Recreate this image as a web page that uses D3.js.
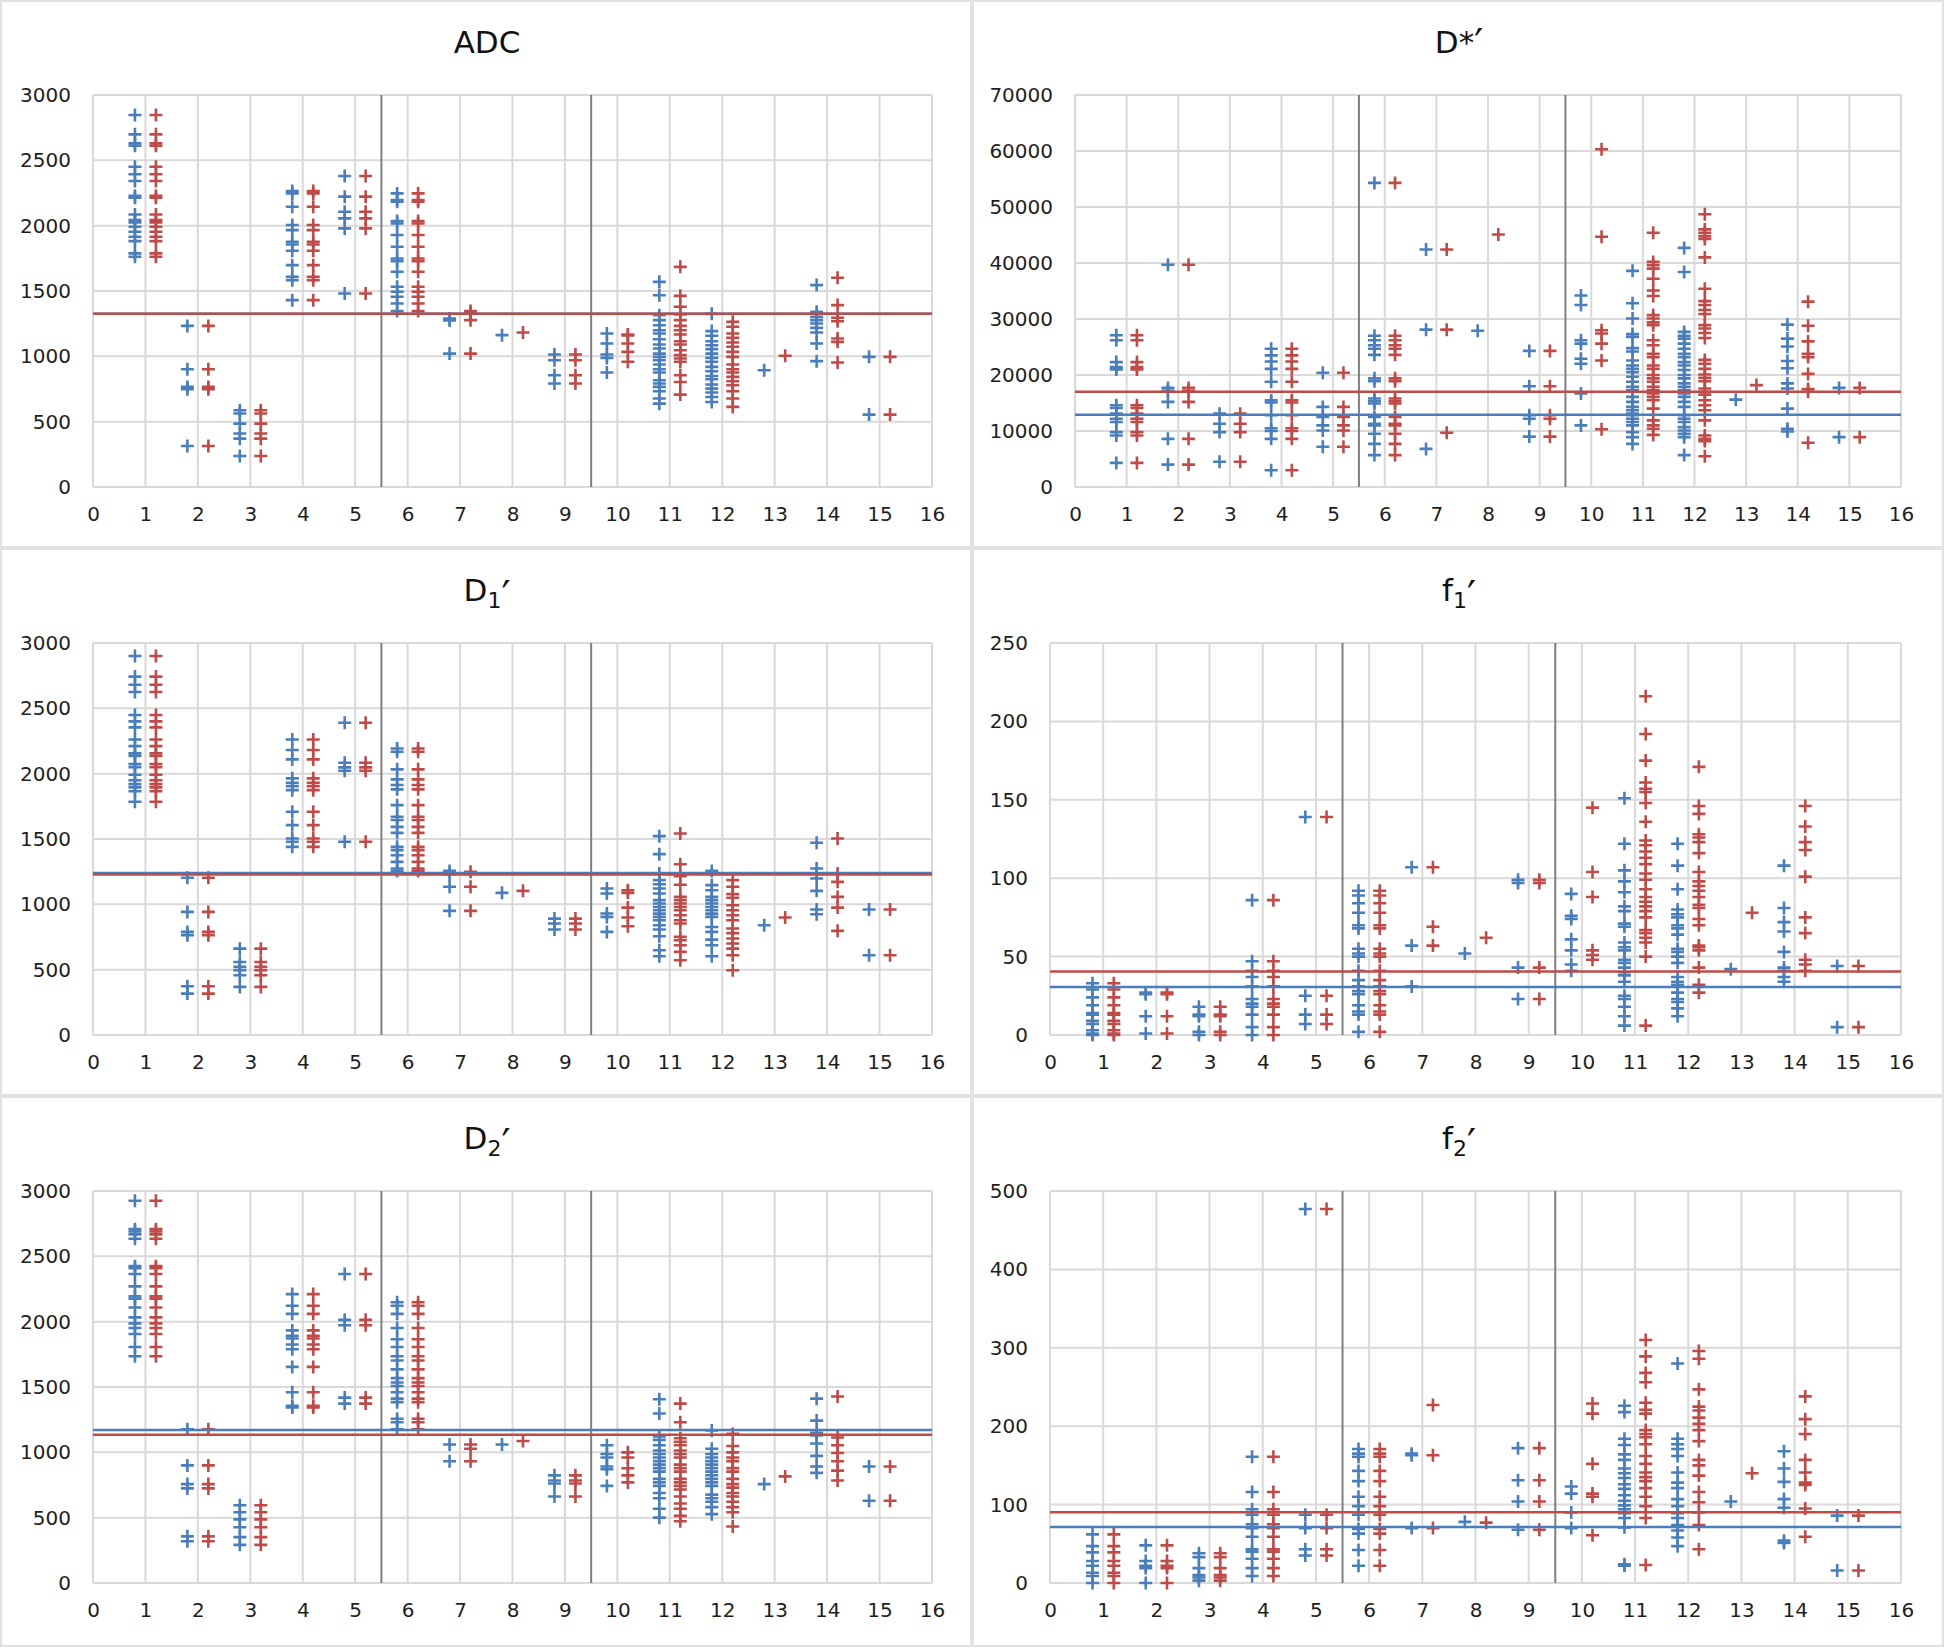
<!DOCTYPE html>
<html>
<head>
<meta charset="utf-8">
<script src="https://cdn.jsdelivr.net/npm/d3@7"></script>
<style>
  html, body { margin: 0; padding: 0; background: #ffffff; }
  svg { display: block; }
  text { font-family: "DejaVu Sans", Verdana, sans-serif; }
</style>
</head>
<body>
<svg id="chart" width="1944" height="1649"></svg>
<script>
// ---------- DATA (index 0 = category 1 ... index 14 = category 15) ----------
const xTickLabels = [0,1,2,3,4,5,6,7,8,9,10,11,12,13,14,15,16];
const categories = [1,2,3,4,5,6,7,8,9,10,11,12,13,14,15];
const dividers = [5.5, 9.5];

const titles = ["ADC", "D*′", "D1′", "f1′", "D2′", "f2′"];
const yTickLabels = [
  [0,500,1000,1500,2000,2500,3000],
  [0,10000,20000,30000,40000,50000,60000,70000],
  [0,500,1000,1500,2000,2500,3000],
  [0,50,100,150,200,250],
  [0,500,1000,1500,2000,2500,3000],
  [0,100,200,300,400,500]
];
const meanBlue = [1325, 12900, 1240, 30.6, 1170, 71.3];
const meanRed  = [1325, 17000, 1228, 40.5, 1135, 90.3];

const adcBlue = [
  [2847,2699,2630,2612,2451,2393,2342,2229,2214,2086,2043,2025,1992,1953,1915,1882,1788,1762],
  [1233,901,766,748,314],
  [587,562,485,409,370,237],
  [2265,2247,2145,2005,1966,1877,1856,1808,1698,1609,1583,1430],
  [2380,2222,2107,2056,1979,1481],
  [2247,2196,2183,2035,2017,1928,1839,1749,1729,1647,1532,1494,1456,1404,1346],
  [1290,1275,1021],
  [1162],
  [1014,970,855,792],
  [1175,1098,1014,988,876],
  [1570,1468,1315,1277,1238,1200,1175,1131,1090,1060,1021,996,970,937,901,876,817,792,766,733,677,638],
  [1325,1193,1157,1116,1085,1055,1021,988,958,919,886,850,825,784,753,723,689,651],
  [894],
  [1545,1341,1302,1277,1251,1218,1182,1098,963],
  [996,554]
];
const adcRed = [
  [2847,2699,2630,2612,2451,2393,2342,2229,2214,2086,2043,2025,1992,1953,1915,1882,1788,1762],
  [1233,901,766,748,314],
  [587,562,485,409,370,237],
  [2265,2247,2145,2005,1966,1877,1856,1808,1698,1609,1583,1430],
  [2380,2222,2107,2056,1979,1481],
  [2247,2196,2183,2035,2017,1928,1839,1749,1729,1647,1532,1494,1456,1404,1346],
  [1346,1330,1277,1021],
  [1182],
  [1014,970,855,792],
  [1167,1160,1098,1034,958],
  [1685,1463,1379,1320,1277,1233,1200,1167,1116,1090,1047,1009,983,958,855,804,707],
  [1264,1226,1175,1141,1106,1073,1034,996,937,901,876,843,809,779,733,677,613],
  [1004],
  [1601,1392,1295,1269,1136,1111,953],
  [996,554]
];

const dStarBlue = [
  [27100,26200,22300,21400,21000,14600,14100,13100,12200,11600,9800,9200,4300],
  [39700,17700,17200,15200,8600,4000],
  [13100,11300,9800,4500],
  [24700,23500,22400,21100,18800,15500,15100,12800,10500,10000,8600,3000],
  [20400,14300,12500,11000,10100,7200],
  [54300,27000,26200,25300,24700,23600,19400,18900,15800,15300,14900,12500,11300,11000,9500,7700,5700],
  [42400,28100,6800],
  [27900],
  [24300,18000,12800,12200,9000],
  [34200,32500,26200,25600,22900,22000,16700,11000],
  [38600,32800,30100,27300,26800,24800,24200,22600,21700,21100,20500,19700,18800,17900,17300,16100,15200,14300,13700,13100,12800,12200,11600,11000,9800,8900,7700],
  [42700,38400,27700,27000,26500,25600,24700,23800,23200,22300,21700,20900,20000,19400,18500,17900,17300,16700,16100,15200,14300,12800,12200,11600,10700,10100,9500,8900,5700],
  [15600],
  [29000,26500,25100,22500,21200,18500,17600,14000,10400,9900],
  [17700,8900]
];
const dStarRed = [
  [27100,26200,22300,21400,21000,14600,14100,13100,12200,11600,9800,9200,4300],
  [39700,17700,17200,15200,8600,4000],
  [13100,11300,9800,4500],
  [24700,23500,22400,21100,18800,15500,15100,12800,10500,10000,8600,3000],
  [20400,14300,12500,11000,10100,7200],
  [54300,27000,26200,25300,24700,23600,19400,18900,15800,15300,14900,12500,11300,11000,9500,7700,5700],
  [42400,28100,9700],
  [45100],
  [24300,18000,12800,12200,9000],
  [60300,44700,28000,27400,25600,22600,10300],
  [45400,40200,39600,39000,37200,35100,34100,30700,30100,29400,28900,26200,25300,23800,23200,21700,21100,20000,19400,18800,17900,17300,16700,16100,15500,14000,11900,11000,10400,9300],
  [48700,46000,45400,44800,44300,41000,35400,33200,32500,31600,30900,28900,28300,27500,26600,22700,22000,21100,20100,19500,18900,17600,17000,16500,15500,14600,13700,11900,9200,8600,8200,5500],
  [18200],
  [33100,28800,26000,23800,23200,20200,17500,17000,7900],
  [17700,8900]
];

const d1Blue = [
  [2901,2743,2680,2625,2449,2400,2354,2262,2211,2155,2135,2074,2050,1992,1950,1920,1895,1865,1785],
  [1203,942,789,764,373,317],
  [661,559,521,495,457,368],
  [2262,2181,2109,1964,1931,1905,1874,1708,1606,1504,1479,1440],
  [2390,2084,2048,2022,1479],
  [2193,2168,2033,1956,1913,1880,1759,1670,1645,1593,1547,1440,1415,1376,1325,1274,1256],
  [1256,1230,1134,950],
  [1088],
  [891,853,807],
  [1121,1083,930,904,789],
  [1522,1384,1236,1185,1154,1121,1083,1032,1006,980,955,929,904,878,840,807,756,649,603],
  [1256,1147,1108,1057,1032,1006,980,955,929,904,827,789,730,687,603],
  [840],
  [1471,1274,1236,1198,1103,960,924],
  [960,610]
];
const d1Red = [
  [2901,2743,2680,2625,2449,2400,2354,2262,2211,2155,2135,2074,2050,1992,1950,1920,1895,1865,1785],
  [1203,942,789,764,373,317],
  [661,559,521,495,457,368],
  [2262,2181,2109,1964,1931,1905,1874,1708,1606,1504,1479,1440],
  [2390,2084,2048,2022,1479],
  [2193,2168,2033,1956,1913,1880,1759,1670,1645,1593,1547,1440,1415,1376,1325,1274,1256],
  [1249,1134,950],
  [1103],
  [891,853,807],
  [1108,1088,975,899,832],
  [1542,1307,1216,1150,1057,1032,1006,980,955,917,878,853,751,725,687,636,572],
  [1185,1134,1078,1050,993,955,917,878,815,780,738,700,661,610,495],
  [899],
  [1504,1236,1172,1057,975,797],
  [960,610]
];

const f1Blue = [
  [33,29,24,19,14,13,9,7,3,1,0],
  [27,26,12,1],
  [18,13,12,2,0],
  [86,47,41,37,31,23,20,18,13,5,0],
  [139,25,13,7],
  [92,89,84,78,70,68,55,52,50,41,35,31,28,26,19,15,13,2],
  [107,57,31],
  [52],
  [99,97,43,23],
  [90,76,74,61,54,45,41],
  [151,122,105,98,91,82,79,71,69,59,56,54,48,46,43,40,38,34,25,23,18,12,6],
  [122,108,93,80,77,75,70,68,64,55,53,50,46,37,34,32,27,23,21,17,12],
  [42],
  [108,81,72,66,53,43,41,37,34],
  [44,5]
];
const f1Red = [
  [33,29,24,19,14,13,9,7,3,1,0],
  [27,26,12,1],
  [18,13,12,2,0],
  [86,47,41,37,31,23,20,18,13,5,0],
  [139,25,13,7],
  [92,89,84,78,70,68,55,52,50,41,35,31,28,26,19,15,13,2],
  [107,69,57],
  [62],
  [99,97,43,23],
  [145,104,88,54,51,48],
  [216,192,175,161,157,155,148,136,124,121,117,113,109,103,99,93,88,85,82,79,75,67,65,62,59,50,6],
  [171,146,141,128,126,123,116,104,98,95,92,88,83,81,74,70,57,56,54,43,32,27],
  [78],
  [146,133,123,118,101,75,65,48,45,41],
  [44,5]
];

const d2Blue = [
  [2925,2708,2690,2668,2635,2425,2410,2365,2270,2195,2176,2108,2033,1987,1952,1906,1806,1735],
  [1176,900,757,724,357,319],
  [595,541,487,427,351,292],
  [2211,2122,2060,1933,1892,1871,1825,1789,1654,1460,1357,1343],
  [2365,2014,1973,1419,1373],
  [2149,2122,2060,1952,1865,1806,1735,1703,1635,1568,1535,1508,1460,1411,1384,1257,1230,1176],
  [1060,932],
  [1060],
  [824,784,762,662],
  [1054,987,960,892,870,743],
  [1406,1297,1122,1095,1054,1014,987,960,933,906,879,852,797,770,743,689,649,568,500],
  [1168,1027,987,960,933,906,879,852,825,797,770,743,676,649,622,581,527],
  [757],
  [1411,1243,1149,1130,1068,973,892,843],
  [892,630]
];
const d2Red = [
  [2925,2708,2690,2668,2635,2425,2410,2365,2270,2195,2176,2108,2033,1987,1952,1906,1806,1735],
  [1176,900,757,724,357,319],
  [595,541,487,427,351,292],
  [2211,2122,2060,1933,1892,1871,1825,1789,1654,1460,1357,1343],
  [2365,2014,1973,1419,1373],
  [2149,2122,2060,1952,1865,1806,1735,1703,1635,1568,1535,1508,1460,1411,1384,1257,1230,1176],
  [1060,1027,932],
  [1087],
  [824,784,762,662],
  [1000,960,878,824,770],
  [1373,1230,1108,1081,1054,1014,987,960,906,879,852,797,770,743,716,662,608,568,514,473],
  [1141,1049,1000,960,933,879,852,797,757,730,689,662,622,581,541,432],
  [816],
  [1427,1114,1054,995,932,860,784],
  [892,630]
];

const f2Blue = [
  [62,47,39,28,22,13,9,0],
  [48,28,22,19,0],
  [38,33,19,10,7,3],
  [161,116,94,87,75,70,59,43,40,31,19,9],
  [477,87,70,43,35],
  [171,165,161,143,130,110,98,87,69,63,42,22],
  [165,163,70],
  [78],
  [172,131,104,68],
  [123,114,90,70],
  [226,218,184,176,164,157,146,140,134,126,120,112,105,99,94,89,83,71,24,22],
  [280,184,177,171,162,141,128,121,107,98,89,83,74,67,58,47],
  [104],
  [168,146,129,107,96,54,51],
  [86,16]
];
const f2Red = [
  [62,47,39,28,22,13,9,0],
  [48,28,22,19,0],
  [38,33,19,10,7,3],
  [161,116,94,87,75,70,59,43,40,31,19,9],
  [477,87,70,43,35],
  [171,165,161,143,130,110,98,87,69,63,42,22],
  [227,163,70],
  [77],
  [172,131,104,68],
  [229,216,152,114,110,61],
  [310,289,268,256,230,221,216,195,190,186,177,162,152,141,135,130,121,110,98,83,23],
  [296,286,247,225,220,211,203,195,181,157,150,137,116,103,90,74,43],
  [140],
  [238,209,190,157,141,128,125,95,59],
  [86,16]
];

const blueSeries = [adcBlue, dStarBlue, d1Blue, f1Blue, d2Blue, f2Blue];
const redSeries  = [adcRed, dStarRed, d1Red, f1Red, d2Red, f2Red];

// ---------- LAYOUT ----------
const BLUE = "#4a7ebb", RED = "#be4b48", GRID = "#d9d9d9", DIV = "#7f7f7f", TXT = "#1e1e1e";
const rowTops = [0, 548, 1096];
const rowHeights = [548, 548, 551];
const colLefts = [0, 972];
const plotLefts = [93, 1075, 93, 1050, 93, 1050];
const plotRight = [932, 1901];

const svg = d3.select("#chart");
svg.append("rect").attr("width", 1944).attr("height", 1649).attr("fill", "#fff");

const plusPath = "M-6.5,0H6.5M0,-6.5V6.5";

titles.forEach((title, i) => {
  const r = Math.floor(i / 2), c = i % 2;
  const top = rowTops[r];
  const g = svg.append("g");

  // panel border
  g.append("rect")
    .attr("x", colLefts[c] + 1).attr("y", top + 1)
    .attr("width", 970).attr("height", rowHeights[r] - 2)
    .attr("fill", "none").attr("stroke", GRID).attr("stroke-width", 1.5);

  const x = d3.scaleLinear().domain([0, 16]).range([plotLefts[i], plotRight[c]]);
  const ticks = yTickLabels[i];
  const y = d3.scaleLinear().domain([0, ticks[ticks.length - 1]]).range([top + 487, top + 95]);

  // grid
  g.append("g").selectAll("line.v").data(xTickLabels).join("line")
    .attr("x1", d => x(d)).attr("x2", d => x(d))
    .attr("y1", y.range()[0]).attr("y2", y.range()[1])
    .attr("stroke", GRID).attr("stroke-width", 2);
  g.append("g").selectAll("line.h").data(ticks).join("line")
    .attr("x1", x.range()[0]).attr("x2", x.range()[1])
    .attr("y1", d => y(d)).attr("y2", d => y(d))
    .attr("stroke", GRID).attr("stroke-width", 2);

  // axes labels using d3 axes
  const yAxis = d3.axisLeft(y).tickValues(ticks).tickSize(0).tickPadding(22).tickFormat(d3.format("d"));
  const ya = g.append("g").attr("transform", `translate(${x.range()[0]},0)`).call(yAxis);
  ya.select(".domain").remove();
  ya.selectAll("text").attr("font-size", 20).attr("fill", TXT)
    .attr("font-family", '"DejaVu Sans", Verdana, sans-serif');

  const xAxis = d3.axisBottom(x).tickValues(xTickLabels).tickSize(0).tickPadding(20).tickFormat(d3.format("d"));
  const xa = g.append("g").attr("transform", `translate(0,${y.range()[0]})`).call(xAxis);
  xa.select(".domain").remove();
  xa.selectAll("text").attr("font-size", 20).attr("fill", TXT)
    .attr("font-family", '"DejaVu Sans", Verdana, sans-serif');

  // divider lines
  g.append("g").selectAll("line").data(dividers).join("line")
    .attr("x1", d => x(d)).attr("x2", d => x(d))
    .attr("y1", y.range()[0]).attr("y2", y.range()[1])
    .attr("stroke", DIV).attr("stroke-width", 2);

  // markers
  const drawSeries = (series, offset, color) => {
    const pts = [];
    series.forEach((vals, k) => vals.forEach(v => pts.push({cx: categories[k] + offset, v})));
    g.append("g").selectAll("path").data(pts).join("path")
      .attr("d", plusPath)
      .attr("transform", d => `translate(${x(d.cx)},${y(d.v)})`)
      .attr("fill", "none").attr("stroke", color).attr("stroke-width", 2.6);
  };
  drawSeries(blueSeries[i], -0.2, BLUE);
  drawSeries(redSeries[i], 0.2, RED);

  // mean lines
  [[meanBlue[i], BLUE], [meanRed[i], RED]].forEach(([m, col]) => {
    g.append("line")
      .attr("x1", x.range()[0]).attr("x2", x.range()[1])
      .attr("y1", y(m)).attr("y2", y(m))
      .attr("stroke", col).attr("stroke-width", 2.5);
  });

  // title (subscript digit and enlarged prime as tspans)
  const t = g.append("text")
    .attr("x", colLefts[c] + 487).attr("y", top + 53)
    .attr("text-anchor", "middle").attr("font-size", 31).attr("fill", "#111");
  const chars = Array.from(title);
  let lowered = false;
  chars.forEach(ch => {
    if (/[12]/.test(ch)) {
      t.append("tspan").attr("font-size", 22).attr("dy", 7).text(ch);
      lowered = true;
    } else if (ch === "′") {
      t.append("tspan").attr("font-size", 40).attr("dy", lowered ? 2 : 5).text(ch);
      lowered = false;
    } else {
      t.append("tspan").text(ch);
    }
  });
});
</script>
</body>
</html>
